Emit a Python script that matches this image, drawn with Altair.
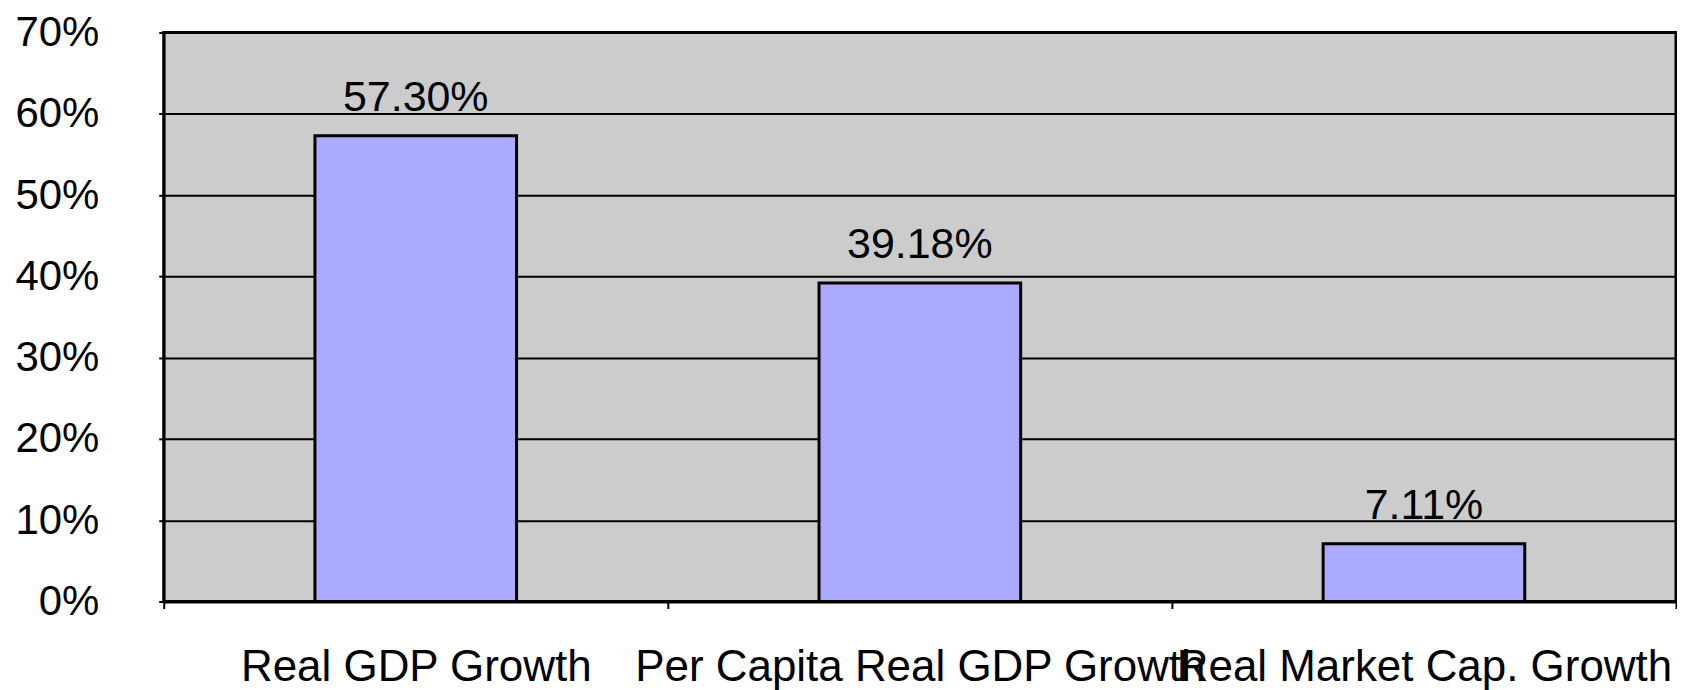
import altair as alt
import pandas as pd

categories = ["Real GDP Growth", "Per Capita Real GDP Growth", "Real Market Cap. Growth"]
values = [0.5730, 0.3918, 0.0711]
y_ticks = [0, 0.1, 0.2, 0.3, 0.4, 0.5, 0.6, 0.7]

df = pd.DataFrame({"category": categories, "value": values})

FONT = "Liberation Sans"

x_enc = alt.X(
    "category:N",
    sort=categories,
    title=None,
    scale=alt.Scale(paddingInner=0, paddingOuter=0),
    axis=alt.Axis(
        labelAngle=0,
        labelLimit=0,
        tickBand="extent",
        tickSize=7,
        tickWidth=2,
        tickColor="black",
        domainColor="black",
        domainWidth=3,
        labelPadding=37,
        labelBaseline="top",
        labelFont=FONT,
        labelColor="black",
        labelFontSize=44,
        grid=False,
    ),
)

y_enc = alt.Y(
    "value:Q",
    title=None,
    scale=alt.Scale(domain=[0, 0.7], nice=False),
    axis=alt.Axis(
        values=y_ticks,
        format=".0%",
        labelFont=FONT,
        labelFontSize=42,
        labelColor="black",
        labelPadding=60,
        labelLimit=0,
        tickSize=5,
        tickWidth=2,
        tickColor="black",
        domainColor="black",
        domainWidth=2.5,
        grid=True,
        gridColor="black",
        gridWidth=2,
        gridOpacity=1,
    ),
)

bars = alt.Chart(df).mark_bar(
    width=alt.RelativeBandSize(0.4),
    color="#AAAAFF",
    stroke="black",
    strokeWidth=3,
).encode(x=x_enc, y=y_enc)

labels = alt.Chart(df).mark_text(
    font=FONT,
    fontSize=43,
    color="black",
    baseline="alphabetic",
    dy=-25,
).encode(
    x=alt.X("category:N", sort=categories),
    y=alt.Y("value:Q"),
    text=alt.Text("value:Q", format=".2%"),
)

chart = (
    alt.layer(bars, labels)
    .properties(
        width=1515,
        height=570,
        padding={"left": 6, "top": 3, "right": 0, "bottom": 0},
        background="white",
    )
    .configure_view(fill="#CCCCCC", stroke="black", strokeWidth=3)
)

chart.save("out.html", embed_options={"renderer": "svg", "actions": False})
